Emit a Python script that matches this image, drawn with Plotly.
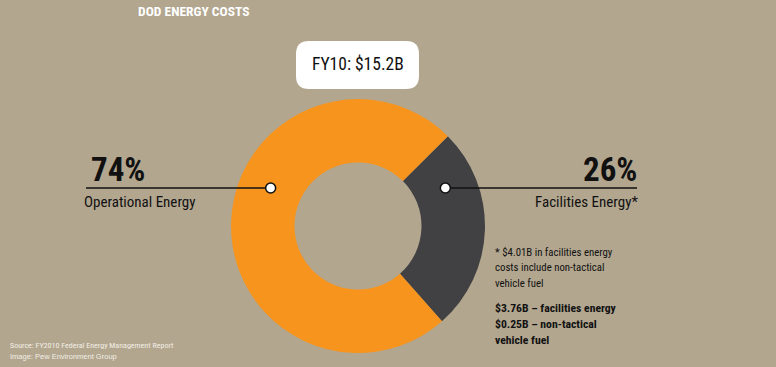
import math
import plotly.graph_objects as go

W, H = 776, 367

# ---- data ----
categories = ["Facilities Energy", "Operational Energy"]
shares = [26, 74]
pct_labels = ["26%", "74%"]
total_label = "FY10: $15.2B"
title_text = "DOD ENERGY COSTS"
footnote_lines = ["* $4.01B in facilities energy", "costs include non-tactical", "vehicle fuel"]
breakdown_lines = ["$3.76B \u2013 facilities energy", "$0.25B \u2013 non-tactical", "vehicle fuel"]
source_text = "Source: FY2010 Federal Energy Management Report"
credit_text = "Image: Pew Environment Group"

BG = "#B2A68F"
ORANGE = "#F7941D"
DARK = "#414042"
NARROW = "Roboto Condensed, Open Sans Condensed, sans-serif"

def px(x):
    return x / W

def py(y):
    return 1 - y / H

# donut geometry (pixels)
cx, cy, R = 358, 226, 127
hole = 0.5

fig = go.Figure()
fig.add_trace(go.Pie(
    labels=categories, values=shares, sort=False, direction="clockwise",
    rotation=45, hole=hole,
    marker=dict(colors=[DARK, ORANGE], line=dict(width=0)),
    textinfo="none", hoverinfo="label+percent", showlegend=False,
    domain=dict(x=[px(cx - R), px(cx + R)], y=[py(cy + R), py(cy - R)]),
))

shapes = []
annotations = []

# leader lines and dots on the ring midline
line_y = 188
mid_r = R * (1 + hole) / 2
dxr = math.sqrt(max(mid_r ** 2 - (cy - line_y) ** 2, 0))
dots = [(cx - dxr, 86), (cx + dxr, 637)]
for dot_x, end_x in dots:
    shapes.append(dict(type="line", xref="paper", yref="paper",
                       x0=px(min(dot_x, end_x)), x1=px(max(dot_x, end_x)),
                       y0=py(line_y), y1=py(line_y),
                       line=dict(color="#111111", width=1.5), layer="above"))
    r = 5
    shapes.append(dict(type="circle", xref="paper", yref="paper",
                       x0=px(dot_x - r), x1=px(dot_x + r),
                       y0=py(line_y + r), y1=py(line_y - r),
                       fillcolor="white", line=dict(color="#111111", width=1.5),
                       layer="above"))

# rounded box for total
bx0, bx1, by0, by1, rr = 296, 419, 41, 89, 13
path = (f"M {px(bx0+rr)},{py(by0)} L {px(bx1-rr)},{py(by0)} "
        f"Q {px(bx1)},{py(by0)} {px(bx1)},{py(by0+rr)} "
        f"L {px(bx1)},{py(by1-rr)} Q {px(bx1)},{py(by1)} {px(bx1-rr)},{py(by1)} "
        f"L {px(bx0+rr)},{py(by1)} Q {px(bx0)},{py(by1)} {px(bx0)},{py(by1-rr)} "
        f"L {px(bx0)},{py(by0+rr)} Q {px(bx0)},{py(by0)} {px(bx0+rr)},{py(by0)} Z")
shapes.append(dict(type="path", xref="paper", yref="paper", path=path,
                   fillcolor="white", line=dict(width=0), layer="above"))

def ann(text, x, y, size, color="#111111", xanchor="left", yanchor="middle",
        family=NARROW, bold=False):
    t = f"<b>{text}</b>" if bold else text
    annotations.append(dict(text=t, x=px(x), y=py(y), xref="paper", yref="paper",
                            xanchor=xanchor, yanchor=yanchor, showarrow=False,
                            borderpad=0,
                            font=dict(size=size, color=color, family=family)))

ann(title_text, 137, 11, 13.5, color="white", bold=True)
ann(total_label, 358, 64, 17.5, xanchor="center")

ann(pct_labels[1], 90, 170, 33, bold=True)
ann(categories[1], 83, 202, 15)
ann(pct_labels[0], 638, 170, 33, bold=True, xanchor="right")
ann(categories[0] + "*", 639, 202, 15, xanchor="right")

for i, line in enumerate(footnote_lines):
    ann(line, 494, 252 + i * 15.5, 10.8)
for i, line in enumerate(breakdown_lines):
    ann(line, 494, 308 + i * 16, 11.7, bold=True)

ann(source_text, 9, 345, 8, color="#F2EEE6")
ann(credit_text, 9, 356, 7.5, color="#F2EEE6", family="Liberation Sans, Arial, sans-serif")

fig.update_layout(
    width=W, height=H, margin=dict(l=0, r=0, t=0, b=0),
    paper_bgcolor=BG, plot_bgcolor=BG,
    shapes=shapes, annotations=annotations, showlegend=False,
)

fig.write_html("out.html", config={"displayModeBar": False},
               post_script="document.body.style.margin='0';")
